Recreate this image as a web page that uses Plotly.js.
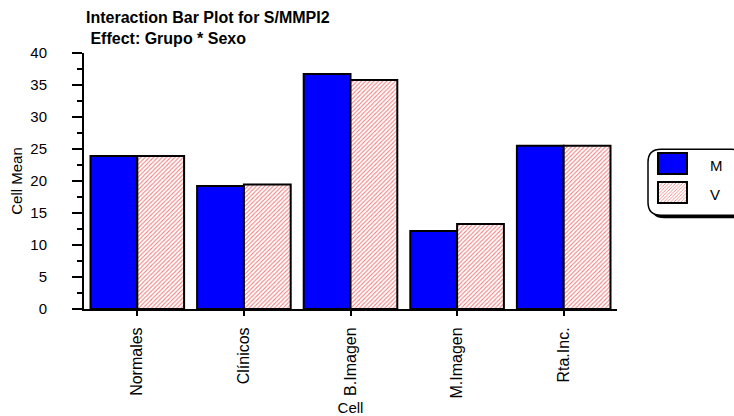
<!DOCTYPE html>
<html>
<head>
<meta charset="utf-8">
<script src="https://cdn.plot.ly/plotly-3.0.1.min.js"></script>
<style>html,body{margin:0;padding:0;background:#fff;}#chart{width:734px;height:416px;}</style>
</head>
<body>
<div id="chart"></div>
<script>
var categories = ["Normales", "Clínicos", "B.Imagen", "M.Imagen", "Rta.Inc."];
var seriesNames = ["M", "V"];
var valuesM = [23.9, 19.2, 36.7, 12.2, 25.5];
var valuesV = [23.9, 19.45, 35.8, 13.3, 25.5];
var yTickVals = [0, 5, 10, 15, 20, 25, 30, 35, 40];

var FONT = "Liberation Sans, Arial, sans-serif";
var W = 734, H = 416;
var M = {l: 84, r: 117, t: 52.5, b: 107};
var PW = W - M.l - M.r, PH = H - M.t - M.b;
function px2paperX(px) { return (px - M.l) / PW; }
function px2paperY(py) { return (H - M.b - py) / PH; }

function roundRect(x0, y0, x1, y1, r) {
  var X0 = px2paperX(x0), X1 = px2paperX(x1), Y0 = px2paperY(y0), Y1 = px2paperY(y1);
  var rx = r / PW, ry = r / PH;
  return "M" + (X0 + rx) + "," + Y0 +
    " L" + (X1 - rx) + "," + Y0 +
    " Q" + X1 + "," + Y0 + " " + X1 + "," + (Y0 - ry) +
    " L" + X1 + "," + (Y1 + ry) +
    " Q" + X1 + "," + Y1 + " " + (X1 - rx) + "," + Y1 +
    " L" + (X0 + rx) + "," + Y1 +
    " Q" + X0 + "," + Y1 + " " + X0 + "," + (Y1 + ry) +
    " L" + X0 + "," + (Y0 - ry) +
    " Q" + X0 + "," + Y0 + " " + (X0 + rx) + "," + Y0 + " Z";
}

var traces = [
  {
    type: "bar", name: seriesNames[0], x: categories, y: valuesM,
    marker: {color: "#0000ff", line: {color: "#000000", width: 2}},
    hoverinfo: "none"
  },
  {
    type: "bar", name: seriesNames[1], x: categories, y: valuesV,
    marker: {
      color: "#ffffff",
      line: {color: "#000000", width: 2},
      pattern: {shape: "/", fgcolor: "#f08080", bgcolor: "#ffffff", size: 3, solidity: 0.35}
    },
    hoverinfo: "none"
  }
];

var layout = {
  width: W, height: H,
  margin: M,
  paper_bgcolor: "#ffffff", plot_bgcolor: "#ffffff",
  font: {family: FONT, size: 15, color: "#000000"},
  barmode: "group", bargap: 0.122, bargroupgap: 0,
  title: {
    text: "Interaction Bar Plot for S/MMPI2<br>\u00a0Effect: Grupo * Sexo",
    font: {family: FONT, size: 16, color: "#000000", weight: "bold"},
    xref: "container", x: 86 / W, xanchor: "left",
    yref: "container", y: 1 - 23 / H, yanchor: "top"
  },
  xaxis: {
    type: "category", range: [-0.5, 4.5],
    showline: true, linecolor: "#000000", linewidth: 2,
    ticks: "outside", ticklen: 5, tickwidth: 2, tickcolor: "#000000",
    tickangle: -90, tickfont: {family: FONT, size: 16},
    ticklabelstandoff: 5,
    showgrid: false, zeroline: false,
    title: {text: "Cell", font: {family: FONT, size: 15}, standoff: 7}
  },
  yaxis: {
    range: [0, 40], tickvals: yTickVals,
    showline: true, linecolor: "#000000", linewidth: 2,
    ticks: "outside", ticklen: 10, tickwidth: 2, tickcolor: "#000000",
    tickfont: {family: FONT, size: 15},
    ticklabelstandoff: 22,
    minor: {dtick: 2.5, ticks: "outside", ticklen: 5, tickwidth: 2, tickcolor: "#000000", showgrid: false},
    showgrid: false, zeroline: false,
    title: {text: "Cell Mean", font: {family: FONT, size: 15}, standoff: 4}
  },
  showlegend: true,
  legend: {
    xref: "container", yref: "container",
    x: 653 / W, y: 1 - 144 / H, xanchor: "left", yanchor: "top",
    bgcolor: "rgba(0,0,0,0)", borderwidth: 0,
    font: {family: FONT, size: 20, color: "#000000"},
    itemwidth: 47, traceorder: "normal"
  },
  shapes: [
    {type: "path", xref: "paper", yref: "paper", path: roundRect(651, 152, 748, 218, 13),
     fillcolor: "#000000", line: {width: 0}, layer: "above"},
    {type: "path", xref: "paper", yref: "paper", path: roundRect(648, 149, 745, 215, 13),
     fillcolor: "#ffffff", line: {color: "#000000", width: 1.5}, layer: "above"}
  ]
};

traces[0].name = '<span style="font-size:15px">' + seriesNames[0] + '</span>';
traces[1].name = '<span style="font-size:15px">' + seriesNames[1] + '</span>';

Plotly.newPlot("chart", traces, layout, {staticPlot: true, displayModeBar: false}).then(function (gd) {
  var items = gd.querySelectorAll(".legend .traces");
  items.forEach(function (item) {
    var txt = item.querySelector("text.legendtext");
    var tx = txt ? parseFloat(txt.getAttribute("x")) : 40;
    var paths = item.querySelectorAll("path.legendbar, .legendpoints path");
    paths.forEach(function (p) {
      var x1 = tx - 23, x0 = x1 - 29;
      p.setAttribute("d", "M" + x1 + ",10.5H" + x0 + "V-10.5H" + x1 + "Z");
      p.removeAttribute("transform");
    });
  });
});
</script>
</body>
</html>
